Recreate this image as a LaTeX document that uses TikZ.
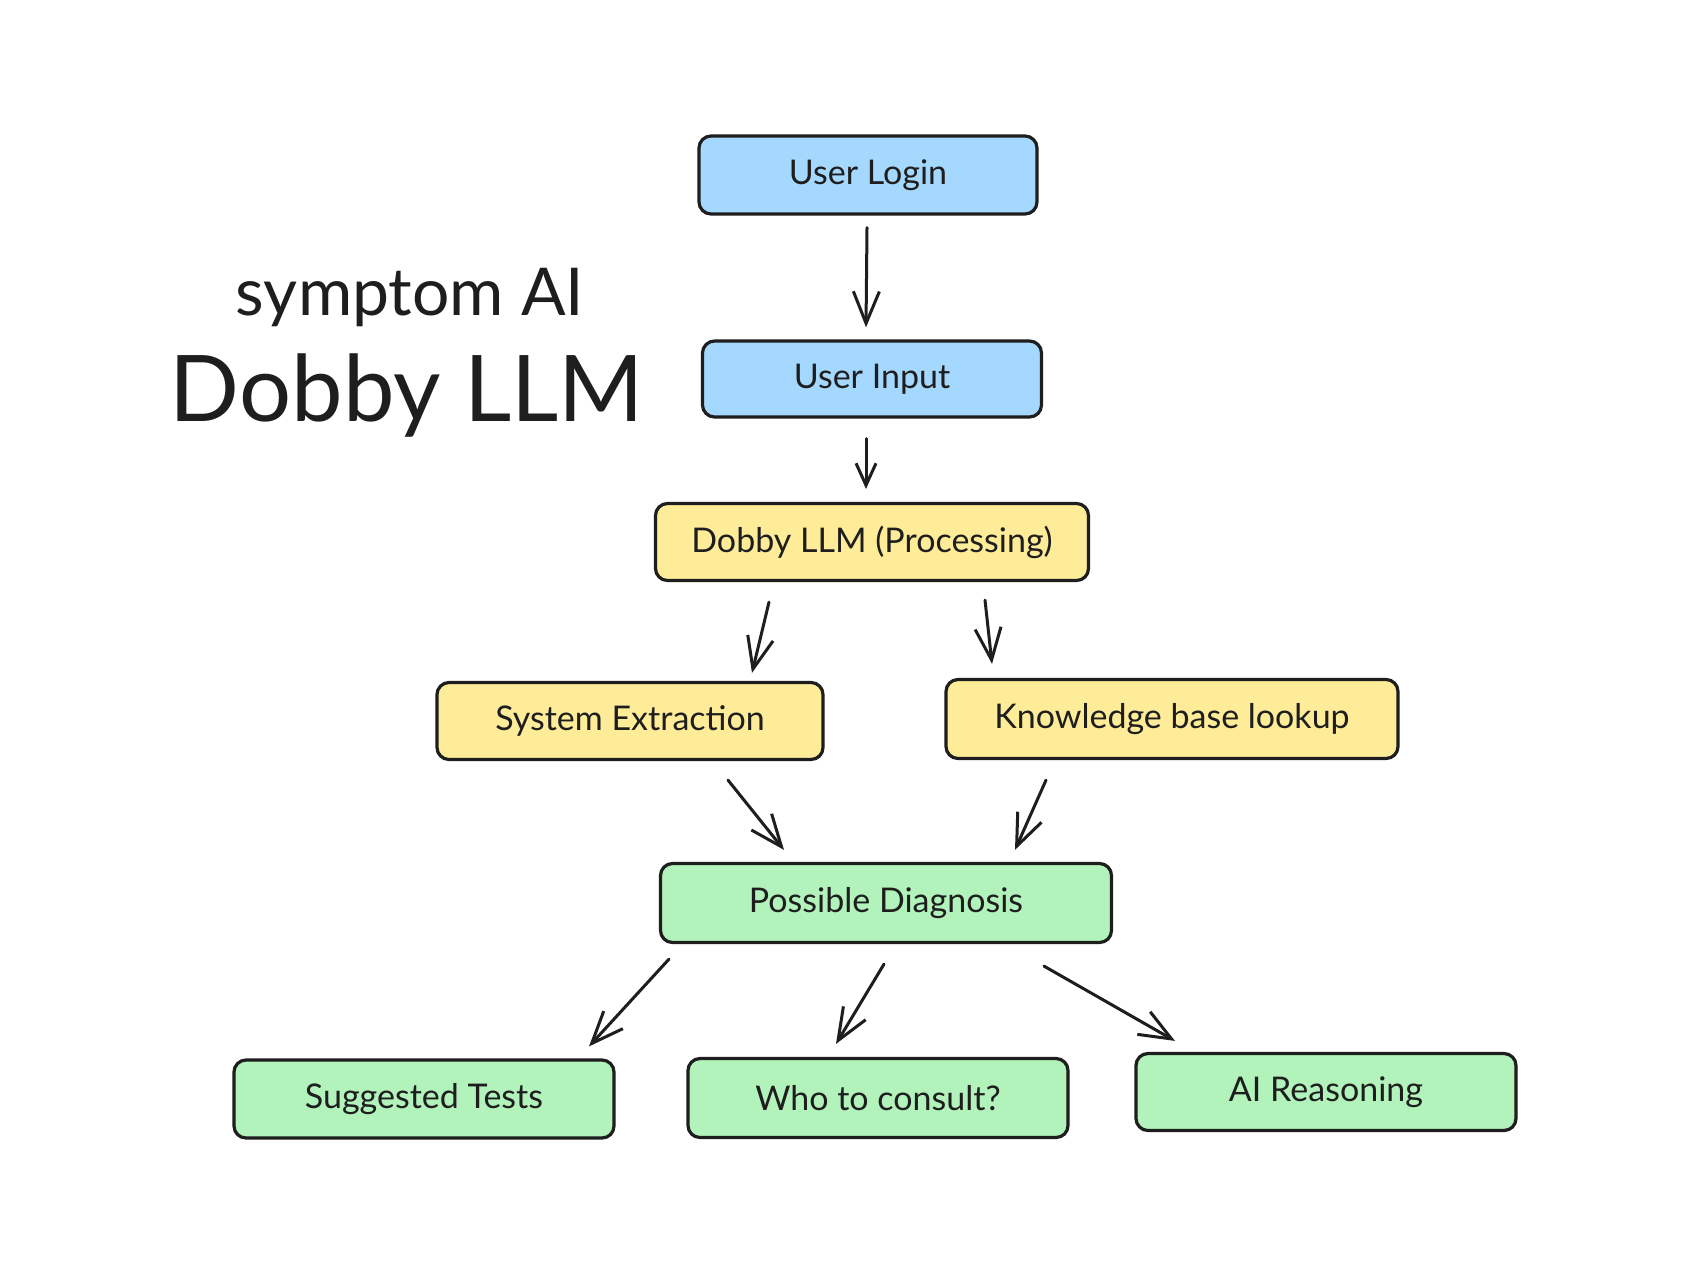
\documentclass[tikz,border=0pt]{standalone}
\usepackage{fontspec}
\setmainfont{Lato}
\usetikzlibrary{arrows.meta,calc}
\definecolor{ink}{HTML}{1E1E1E}
\definecolor{bluefill}{HTML}{A5D8FF}
\definecolor{yellowfill}{HTML}{FFEC99}
\definecolor{greenfill}{HTML}{B2F2BB}
\begin{document}
\begin{tikzpicture}[x=0.5pt,y=-0.5pt,
  box/.style={draw=ink, line width=1.6pt, rounded corners=6pt,
    font=\fontsize{17}{20}\selectfont, text=ink, inner sep=0pt},
  bluebox/.style={box, fill=bluefill},
  yellowbox/.style={box, fill=yellowfill},
  greenbox/.style={box, fill=greenfill},
  arr/.style={draw=ink, line width=1.5pt, line cap=round,
    -{Straight Barb[length=16pt,width=13pt,line width=1.5pt]}},
  shortarr/.style={arr, -{Straight Barb[length=11pt,width=10pt,line width=1.5pt]}},
  title/.style={text=ink, anchor=base}]
\fill[white] (0,0) rectangle (1691,1275);
\useasboundingbox (0,0) rectangle (1691,1275);

\node[title, font=\fontsize{33}{38}\selectfont] (t1) at (410,315) {symptom AI};
\node[title, font=\fontsize{46}{52}\selectfont] (t2) at (407,421) {Dobby LLM};

\node[bluebox, minimum width=169pt, minimum height=39pt] (login) at (868,175) {User Login};
\node[bluebox, minimum width=169.5pt, minimum height=38pt] (input) at (872,379) {User Input};
\node[yellowbox, minimum width=216.5pt, minimum height=38.5pt] (dobby) at (872,542) {Dobby LLM (Processing)};
\node[yellowbox, minimum width=193pt, minimum height=38.5pt] (sys) at (630,721) {System Extraction};
\node[yellowbox, minimum width=226pt, minimum height=39.5pt] (kb) at (1172,719) {Knowledge base lookup};
\node[greenbox, minimum width=225.5pt, minimum height=39.5pt] (pd) at (886,903) {Possible Diagnosis};
\node[greenbox, minimum width=190pt, minimum height=39pt] (tests) at (424,1099) {Suggested Tests};
\node[greenbox, minimum width=190pt, minimum height=39.5pt] (who) at (878,1098) {Who to consult?};
\node[greenbox, minimum width=190pt, minimum height=38.5pt] (ai) at (1326,1092) {AI Reasoning};

\draw[arr] ($(login.south)+(-1,12)$) -- ($(input.north)+(-6,-12)$);
\draw[shortarr] ($(input.south)+(-6,20)$) -- ($(dobby.north)+(-6,-13)$);
\draw[arr] ($(dobby.south)+(-103,20)$) -- ($(sys.north)+(122,-8)$);
\draw[arr] ($(dobby.south)+(113,18)$) -- ($(kb.north)+(-180,-14)$);
\draw[arr] ($(sys.south)+(98,19)$) -- ($(pd.north)+(-102,-12)$);
\draw[arr] ($(kb.south)+(-126,20)$) -- ($(pd.north)+(129,-12)$);
\draw[arr] ($(pd.south)+(-217,15)$) -- ($(tests.north)+(165,-12)$);
\draw[arr] ($(pd.south)+(-2,20)$) -- ($(who.north)+(-42,-13)$);
\draw[arr] ($(pd.south)+(158,22)$) -- ($(ai.north)+(-151,-11)$);
\end{tikzpicture}
\end{document}
